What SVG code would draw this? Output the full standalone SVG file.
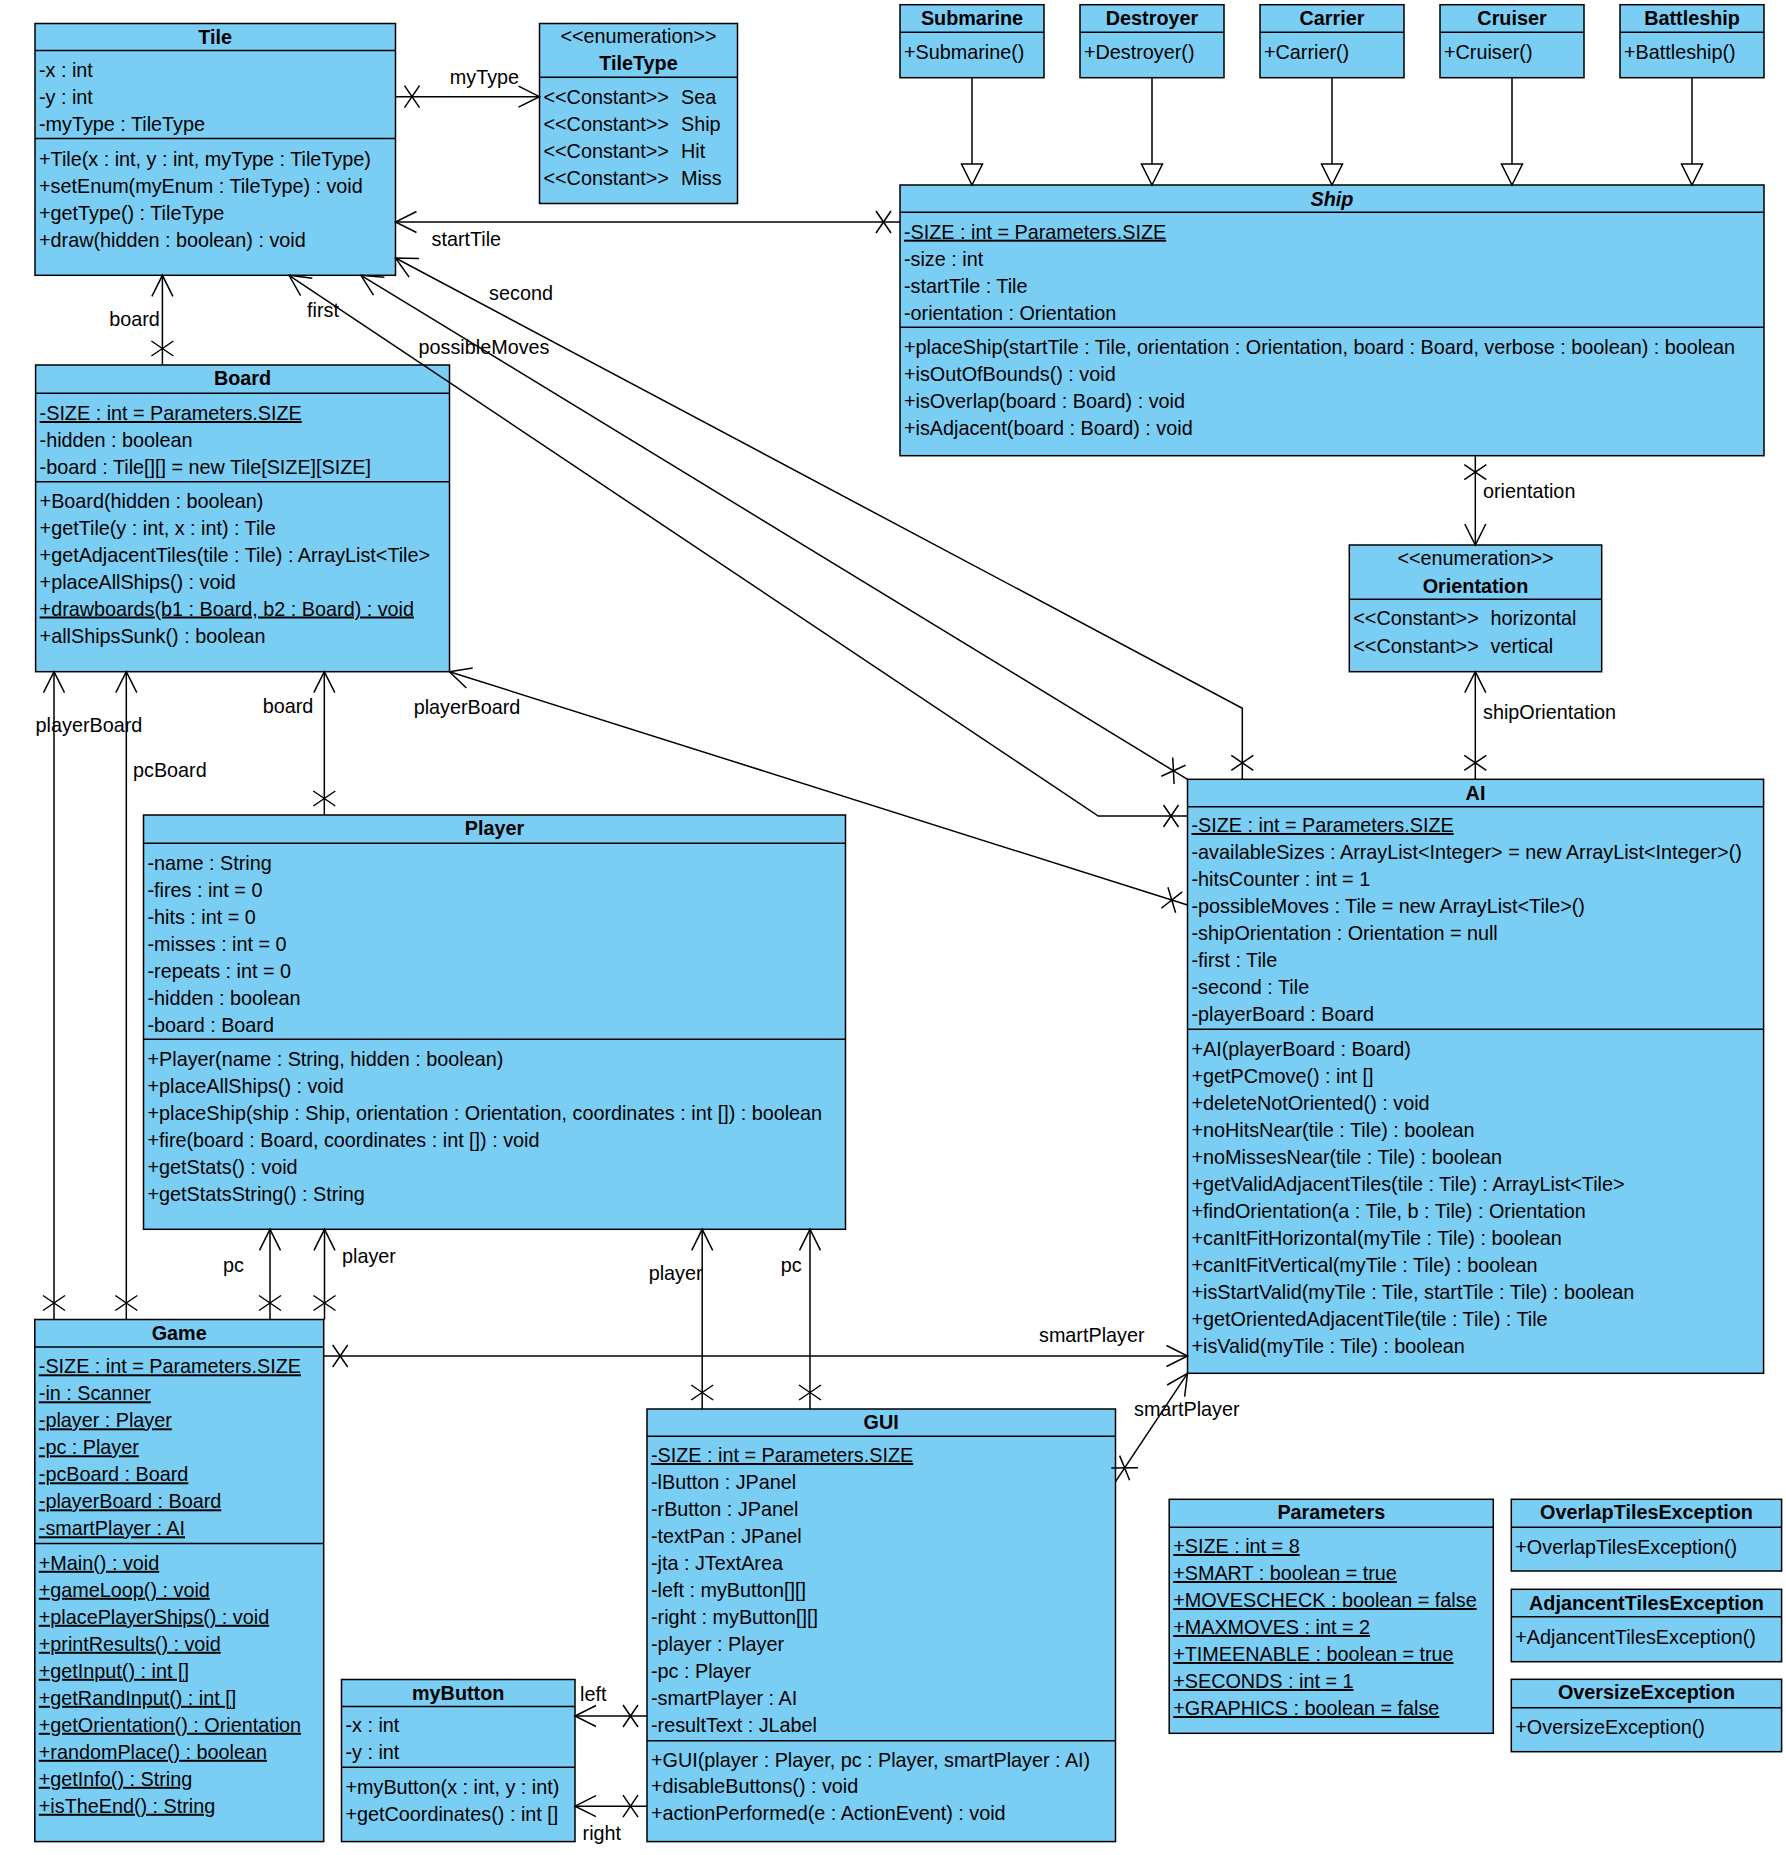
<svg xmlns="http://www.w3.org/2000/svg" width="1786" height="1855" viewBox="0 0 1786 1855">
<style>
.box{fill:#7ACEF4;stroke:#000;stroke-width:1.5}
.sep{stroke:#000;stroke-width:1.5}
text{font-family:"Liberation Sans",Arial,sans-serif;font-size:19.8px;fill:#000}
.b{font-weight:bold}
.i{font-style:italic}
.c{text-anchor:middle}
.u{text-decoration:underline}
.ln{fill:none;stroke:#000;stroke-width:1.5}
.as{marker-end:url(#arr);marker-start:url(#xm)}
.g{marker-end:url(#gen)}
</style>
<defs>
<marker id="arr" markerUnits="userSpaceOnUse" orient="auto" markerWidth="1" markerHeight="1" refX="0" refY="0" style="overflow:visible"><path d="M -21 -10.5 L 0 0 L -21 10.5" fill="none" stroke="#000" stroke-width="1.5"/></marker>
<marker id="xm" markerUnits="userSpaceOnUse" orient="auto" markerWidth="1" markerHeight="1" refX="0" refY="0" style="overflow:visible"><path d="M 9 -11 L 24 11 M 9 11 L 24 -11" fill="none" stroke="#000" stroke-width="1.5"/></marker>
<marker id="gen" markerUnits="userSpaceOnUse" orient="auto" markerWidth="1" markerHeight="1" refX="0" refY="0" style="overflow:visible"><path d="M 0 0 L -21 -10.5 L -21 10.5 Z" fill="#fff" stroke="#000" stroke-width="1.5"/></marker>
</defs>
<rect width="1786" height="1855" fill="#fff"/>

<g id="Tile">
<rect class="box" x="35" y="23.5" width="360.5" height="251.8"/>
<line class="sep" x1="35" y1="50.5" x2="395.5" y2="50.5"/>
<line class="sep" x1="35" y1="138.5" x2="395.5" y2="138.5"/>
<text x="215.2" y="43.5" class="c b">Tile</text>
<text x="39" y="77">-x : int</text>
<text x="39" y="104">-y : int</text>
<text x="39" y="131">-myType : TileType</text>
<text x="39" y="165.5">+Tile(x : int, y : int, myType : TileType)</text>
<text x="39" y="192.5">+setEnum(myEnum : TileType) : void</text>
<text x="39" y="219.5">+getType() : TileType</text>
<text x="39" y="246.5">+draw(hidden : boolean) : void</text>
</g>

<g id="TileType">
<rect class="box" x="539.5" y="23.5" width="198" height="180"/>
<line class="sep" x1="539.5" y1="77.3" x2="737.5" y2="77.3"/>
<text x="638.5" y="43" class="c">&lt;&lt;enumeration&gt;&gt;</text>
<text x="638.5" y="70.3" class="c b">TileType</text>
<text x="543.5" y="103.8">&lt;&lt;Constant&gt;&gt;</text><text x="681" y="103.8">Sea</text>
<text x="543.5" y="130.8">&lt;&lt;Constant&gt;&gt;</text><text x="681" y="130.8">Ship</text>
<text x="543.5" y="157.8">&lt;&lt;Constant&gt;&gt;</text><text x="681" y="157.8">Hit</text>
<text x="543.5" y="184.8">&lt;&lt;Constant&gt;&gt;</text><text x="681" y="184.8">Miss</text>
</g>

<g id="Submarine">
<rect class="box" x="900" y="4.7" width="144" height="73"/>
<line class="sep" x1="900" y1="32.3" x2="1044" y2="32.3"/>
<text x="972" y="25.3" class="c b">Submarine</text>
<text x="904" y="58.7">+Submarine()</text>
</g>
<g id="Destroyer">
<rect class="box" x="1080" y="4.7" width="144" height="73"/>
<line class="sep" x1="1080" y1="32.3" x2="1224" y2="32.3"/>
<text x="1152" y="25.3" class="c b">Destroyer</text>
<text x="1084" y="58.7">+Destroyer()</text>
</g>
<g id="Carrier">
<rect class="box" x="1260" y="4.7" width="144" height="73"/>
<line class="sep" x1="1260" y1="32.3" x2="1404" y2="32.3"/>
<text x="1332" y="25.3" class="c b">Carrier</text>
<text x="1264" y="58.7">+Carrier()</text>
</g>
<g id="Cruiser">
<rect class="box" x="1440" y="4.7" width="144" height="73"/>
<line class="sep" x1="1440" y1="32.3" x2="1584" y2="32.3"/>
<text x="1512" y="25.3" class="c b">Cruiser</text>
<text x="1444" y="58.7">+Cruiser()</text>
</g>
<g id="Battleship">
<rect class="box" x="1620" y="4.7" width="144" height="73"/>
<line class="sep" x1="1620" y1="32.3" x2="1764" y2="32.3"/>
<text x="1692" y="25.3" class="c b">Battleship</text>
<text x="1624" y="58.7">+Battleship()</text>
</g>

<g id="Ship">
<rect class="box" x="900" y="185" width="864" height="270.7"/>
<line class="sep" x1="900" y1="212.3" x2="1764" y2="212.3"/>
<line class="sep" x1="900" y1="327.3" x2="1764" y2="327.3"/>
<text x="1332" y="206" class="c b i">Ship</text>
<text x="904" y="238.7" class="u">-SIZE : int = Parameters.SIZE</text>
<text x="904" y="265.7">-size : int</text>
<text x="904" y="292.7">-startTile : Tile</text>
<text x="904" y="319.7">-orientation : Orientation</text>
<text x="904" y="353.7">+placeShip(startTile : Tile, orientation : Orientation, board : Board, verbose : boolean) : boolean</text>
<text x="904" y="380.7">+isOutOfBounds() : void</text>
<text x="904" y="407.7">+isOverlap(board : Board) : void</text>
<text x="904" y="434.7">+isAdjacent(board : Board) : void</text>
</g>

<g id="Orientation">
<rect class="box" x="1349.3" y="545" width="252.4" height="126.7"/>
<line class="sep" x1="1349.3" y1="599.3" x2="1601.7" y2="599.3"/>
<text x="1475.5" y="565.3" class="c">&lt;&lt;enumeration&gt;&gt;</text>
<text x="1475.5" y="592.7" class="c b">Orientation</text>
<text x="1353.3" y="625.3">&lt;&lt;Constant&gt;&gt;</text><text x="1490.6" y="625.3">horizontal</text>
<text x="1353.3" y="652.7">&lt;&lt;Constant&gt;&gt;</text><text x="1490.6" y="652.7">vertical</text>
</g>

<g id="Board">
<rect class="box" x="35.6" y="365" width="413.9" height="306.7"/>
<line class="sep" x1="35.6" y1="393.3" x2="449.5" y2="393.3"/>
<line class="sep" x1="35.6" y1="481.7" x2="449.5" y2="481.7"/>
<text x="242.5" y="385.3" class="c b">Board</text>
<text x="39.6" y="420" class="u">-SIZE : int = Parameters.SIZE</text>
<text x="39.6" y="447">-hidden : boolean</text>
<text x="39.6" y="474">-board : Tile[][] = new Tile[SIZE][SIZE]</text>
<text x="39.6" y="508">+Board(hidden : boolean)</text>
<text x="39.6" y="535">+getTile(y : int, x : int) : Tile</text>
<text x="39.6" y="561.5">+getAdjacentTiles(tile : Tile) : ArrayList&lt;Tile&gt;</text>
<text x="39.6" y="588.5">+placeAllShips() : void</text>
<text x="39.6" y="615.5" class="u">+drawboards(b1 : Board, b2 : Board) : void</text>
<text x="39.6" y="642.5">+allShipsSunk() : boolean</text>
</g>

<g id="Player">
<rect class="box" x="143.5" y="815" width="702" height="414.3"/>
<line class="sep" x1="143.5" y1="843.3" x2="845.5" y2="843.3"/>
<line class="sep" x1="143.5" y1="1039.3" x2="845.5" y2="1039.3"/>
<text x="494.5" y="835.3" class="c b">Player</text>
<text x="147.5" y="870">-name : String</text>
<text x="147.5" y="897">-fires : int = 0</text>
<text x="147.5" y="924">-hits : int = 0</text>
<text x="147.5" y="951">-misses : int = 0</text>
<text x="147.5" y="978">-repeats : int = 0</text>
<text x="147.5" y="1005">-hidden : boolean</text>
<text x="147.5" y="1032">-board : Board</text>
<text x="147.5" y="1066">+Player(name : String, hidden : boolean)</text>
<text x="147.5" y="1093">+placeAllShips() : void</text>
<text x="147.5" y="1120">+placeShip(ship : Ship, orientation : Orientation, coordinates : int []) : boolean</text>
<text x="147.5" y="1147">+fire(board : Board, coordinates : int []) : void</text>
<text x="147.5" y="1174">+getStats() : void</text>
<text x="147.5" y="1201">+getStatsString() : String</text>
</g>

<g id="AI">
<rect class="box" x="1187.5" y="779.3" width="576.1" height="594"/>
<line class="sep" x1="1187.5" y1="806.7" x2="1763.6" y2="806.7"/>
<line class="sep" x1="1187.5" y1="1029.3" x2="1763.6" y2="1029.3"/>
<text x="1475.5" y="799.7" class="c b">AI</text>
<text x="1191.5" y="832" class="u">-SIZE : int = Parameters.SIZE</text>
<text x="1191.5" y="859">-availableSizes : ArrayList&lt;Integer&gt; = new ArrayList&lt;Integer&gt;()</text>
<text x="1191.5" y="886">-hitsCounter : int = 1</text>
<text x="1191.5" y="913">-possibleMoves : Tile = new ArrayList&lt;Tile&gt;()</text>
<text x="1191.5" y="940">-shipOrientation : Orientation = null</text>
<text x="1191.5" y="967">-first : Tile</text>
<text x="1191.5" y="994">-second : Tile</text>
<text x="1191.5" y="1021">-playerBoard : Board</text>
<text x="1191.5" y="1056">+AI(playerBoard : Board)</text>
<text x="1191.5" y="1083">+getPCmove() : int []</text>
<text x="1191.5" y="1110">+deleteNotOriented() : void</text>
<text x="1191.5" y="1137">+noHitsNear(tile : Tile) : boolean</text>
<text x="1191.5" y="1164">+noMissesNear(tile : Tile) : boolean</text>
<text x="1191.5" y="1191">+getValidAdjacentTiles(tile : Tile) : ArrayList&lt;Tile&gt;</text>
<text x="1191.5" y="1218">+findOrientation(a : Tile, b : Tile) : Orientation</text>
<text x="1191.5" y="1245">+canItFitHorizontal(myTile : Tile) : boolean</text>
<text x="1191.5" y="1272">+canItFitVertical(myTile : Tile) : boolean</text>
<text x="1191.5" y="1299">+isStartValid(myTile : Tile, startTile : Tile) : boolean</text>
<text x="1191.5" y="1326">+getOrientedAdjacentTile(tile : Tile) : Tile</text>
<text x="1191.5" y="1353">+isValid(myTile : Tile) : boolean</text>
</g>

<g id="Game">
<rect class="box" x="34.8" y="1319.5" width="288.9" height="522.1"/>
<line class="sep" x1="34.8" y1="1347" x2="323.7" y2="1347"/>
<line class="sep" x1="34.8" y1="1543.5" x2="323.7" y2="1543.5"/>
<text x="179.2" y="1339.6" class="c b">Game</text>
<text x="38.8" y="1373.3" class="u">-SIZE : int = Parameters.SIZE</text>
<text x="38.8" y="1400.3" class="u">-in : Scanner</text>
<text x="38.8" y="1427.3" class="u">-player : Player</text>
<text x="38.8" y="1454.3" class="u">-pc : Player</text>
<text x="38.8" y="1481.3" class="u">-pcBoard : Board</text>
<text x="38.8" y="1508.3" class="u">-playerBoard : Board</text>
<text x="38.8" y="1535.3" class="u">-smartPlayer : AI</text>
<text x="38.8" y="1569.8" class="u">+Main() : void</text>
<text x="38.8" y="1596.8" class="u">+gameLoop() : void</text>
<text x="38.8" y="1623.8" class="u">+placePlayerShips() : void</text>
<text x="38.8" y="1650.8" class="u">+printResults() : void</text>
<text x="38.8" y="1677.8" class="u">+getInput() : int []</text>
<text x="38.8" y="1704.8" class="u">+getRandInput() : int []</text>
<text x="38.8" y="1731.8" class="u">+getOrientation() : Orientation</text>
<text x="38.8" y="1758.8" class="u">+randomPlace() : boolean</text>
<text x="38.8" y="1785.8" class="u">+getInfo() : String</text>
<text x="38.8" y="1812.8" class="u">+isTheEnd() : String</text>
</g>

<g id="myButton">
<rect class="box" x="341.5" y="1679.5" width="233.5" height="162.1"/>
<line class="sep" x1="341.5" y1="1706.4" x2="575" y2="1706.4"/>
<line class="sep" x1="341.5" y1="1767.3" x2="575" y2="1767.3"/>
<text x="458.2" y="1700" class="c b">myButton</text>
<text x="345.5" y="1732">-x : int</text>
<text x="345.5" y="1759">-y : int</text>
<text x="345.5" y="1793.5">+myButton(x : int, y : int)</text>
<text x="345.5" y="1820.5">+getCoordinates() : int []</text>
</g>

<g id="GUI">
<rect class="box" x="647" y="1409" width="468.5" height="432.6"/>
<line class="sep" x1="647" y1="1436.3" x2="1115.5" y2="1436.3"/>
<line class="sep" x1="647" y1="1740.7" x2="1115.5" y2="1740.7"/>
<text x="881.2" y="1429" class="c b">GUI</text>
<text x="651" y="1462" class="u">-SIZE : int = Parameters.SIZE</text>
<text x="651" y="1489">-lButton : JPanel</text>
<text x="651" y="1516">-rButton : JPanel</text>
<text x="651" y="1543">-textPan : JPanel</text>
<text x="651" y="1570">-jta : JTextArea</text>
<text x="651" y="1597">-left : myButton[][]</text>
<text x="651" y="1624">-right : myButton[][]</text>
<text x="651" y="1651">-player : Player</text>
<text x="651" y="1678">-pc : Player</text>
<text x="651" y="1705">-smartPlayer : AI</text>
<text x="651" y="1732">-resultText : JLabel</text>
<text x="651" y="1766.5">+GUI(player : Player, pc : Player, smartPlayer : AI)</text>
<text x="651" y="1793.3">+disableButtons() : void</text>
<text x="651" y="1820.3">+actionPerformed(e : ActionEvent) : void</text>
</g>

<g id="Parameters">
<rect class="box" x="1169.2" y="1499.3" width="324.1" height="234"/>
<line class="sep" x1="1169.2" y1="1527.3" x2="1493.3" y2="1527.3"/>
<text x="1331.3" y="1519.3" class="c b">Parameters</text>
<text x="1173.2" y="1553" class="u">+SIZE : int = 8</text>
<text x="1173.2" y="1580" class="u">+SMART : boolean = true</text>
<text x="1173.2" y="1607" class="u">+MOVESCHECK : boolean = false</text>
<text x="1173.2" y="1634" class="u">+MAXMOVES : int = 2</text>
<text x="1173.2" y="1661" class="u">+TIMEENABLE : boolean = true</text>
<text x="1173.2" y="1688" class="u">+SECONDS : int = 1</text>
<text x="1173.2" y="1715" class="u">+GRAPHICS : boolean = false</text>
</g>

<g id="OverlapTilesException">
<rect class="box" x="1511.3" y="1499.3" width="270.3" height="71.7"/>
<line class="sep" x1="1511.3" y1="1527.3" x2="1781.6" y2="1527.3"/>
<text x="1646.5" y="1519.3" class="c b">OverlapTilesException</text>
<text x="1515.3" y="1553.7">+OverlapTilesException()</text>
</g>
<g id="AdjancentTilesException">
<rect class="box" x="1511.3" y="1589.3" width="270.3" height="72.4"/>
<line class="sep" x1="1511.3" y1="1616.7" x2="1781.6" y2="1616.7"/>
<text x="1646.5" y="1609.7" class="c b">AdjancentTilesException</text>
<text x="1515.3" y="1643.7">+AdjancentTilesException()</text>
</g>
<g id="OversizeException">
<rect class="box" x="1511.3" y="1679.3" width="270.3" height="72.4"/>
<line class="sep" x1="1511.3" y1="1707.7" x2="1781.6" y2="1707.7"/>
<text x="1646.5" y="1699.3" class="c b">OversizeException</text>
<text x="1515.3" y="1733.7">+OversizeException()</text>
</g>

<g id="connectors">
<path class="ln as" d="M 395.5 96.7 L 539.5 96.7"/>
<path class="ln as" d="M 900 222 L 395.5 222"/>
<path class="ln as" d="M 162.4 365 L 162.4 275.3"/>
<path class="ln as" d="M 1242.3 779.3 L 1242.3 708.3 L 395.5 258"/>
<path class="ln as" d="M 1187.5 779.3 L 361 275.3"/>
<path class="ln as" d="M 1187.5 816 L 1098.3 816 L 289 275.3"/>
<path class="ln as" d="M 1187.5 905 L 449.5 671.7"/>
<path class="ln as" d="M 1475.3 455.7 L 1475.3 545"/>
<path class="ln as" d="M 1475.3 779.3 L 1475.3 671.7"/>
<path class="ln as" d="M 324.3 815 L 324.3 671.7"/>
<path class="ln as" d="M 54 1319.5 L 54 671.7"/>
<path class="ln as" d="M 126.3 1319.5 L 126.3 671.7"/>
<path class="ln as" d="M 270 1319.5 L 270 1229.3"/>
<path class="ln as" d="M 324.5 1319.5 L 324.5 1229.3"/>
<path class="ln as" d="M 702.2 1409 L 702.2 1229.3"/>
<path class="ln as" d="M 810 1409 L 810 1229.3"/>
<path class="ln as" d="M 323.7 1356 L 1187.5 1356"/>
<path class="ln as" d="M 1115.5 1481.7 L 1187.5 1373.3"/>
<path class="ln as" d="M 647 1716 L 575 1716"/>
<path class="ln as" d="M 647 1806.2 L 575 1806.2"/>
<path class="ln g" d="M 972 77.7 L 972 185"/>
<path class="ln g" d="M 1152 77.7 L 1152 185"/>
<path class="ln g" d="M 1332 77.7 L 1332 185"/>
<path class="ln g" d="M 1512 77.7 L 1512 185"/>
<path class="ln g" d="M 1692 77.7 L 1692 185"/>
<text x="484.5" y="84" class="c">myType</text>
<text x="431.5" y="245.7">startTile</text>
<text x="134.5" y="326" class="c">board</text>
<text x="521" y="299.7" class="c">second</text>
<text x="484" y="353.7" class="c">possibleMoves</text>
<text x="323" y="317" class="c">first</text>
<text x="467" y="713.7" class="c">playerBoard</text>
<text x="1483" y="497.7">orientation</text>
<text x="1483" y="719.3">shipOrientation</text>
<text x="288" y="712.7" class="c">board</text>
<text x="35.6" y="732">playerBoard</text>
<text x="133" y="777">pcBoard</text>
<text x="233.5" y="1272" class="c">pc</text>
<text x="342" y="1263">player</text>
<text x="648.7" y="1280">player</text>
<text x="780.7" y="1272">pc</text>
<text x="1039" y="1342.4">smartPlayer</text>
<text x="1134" y="1416">smartPlayer</text>
<text x="580" y="1700.6">left</text>
<text x="582.6" y="1839.7">right</text>
</g>
</svg>
